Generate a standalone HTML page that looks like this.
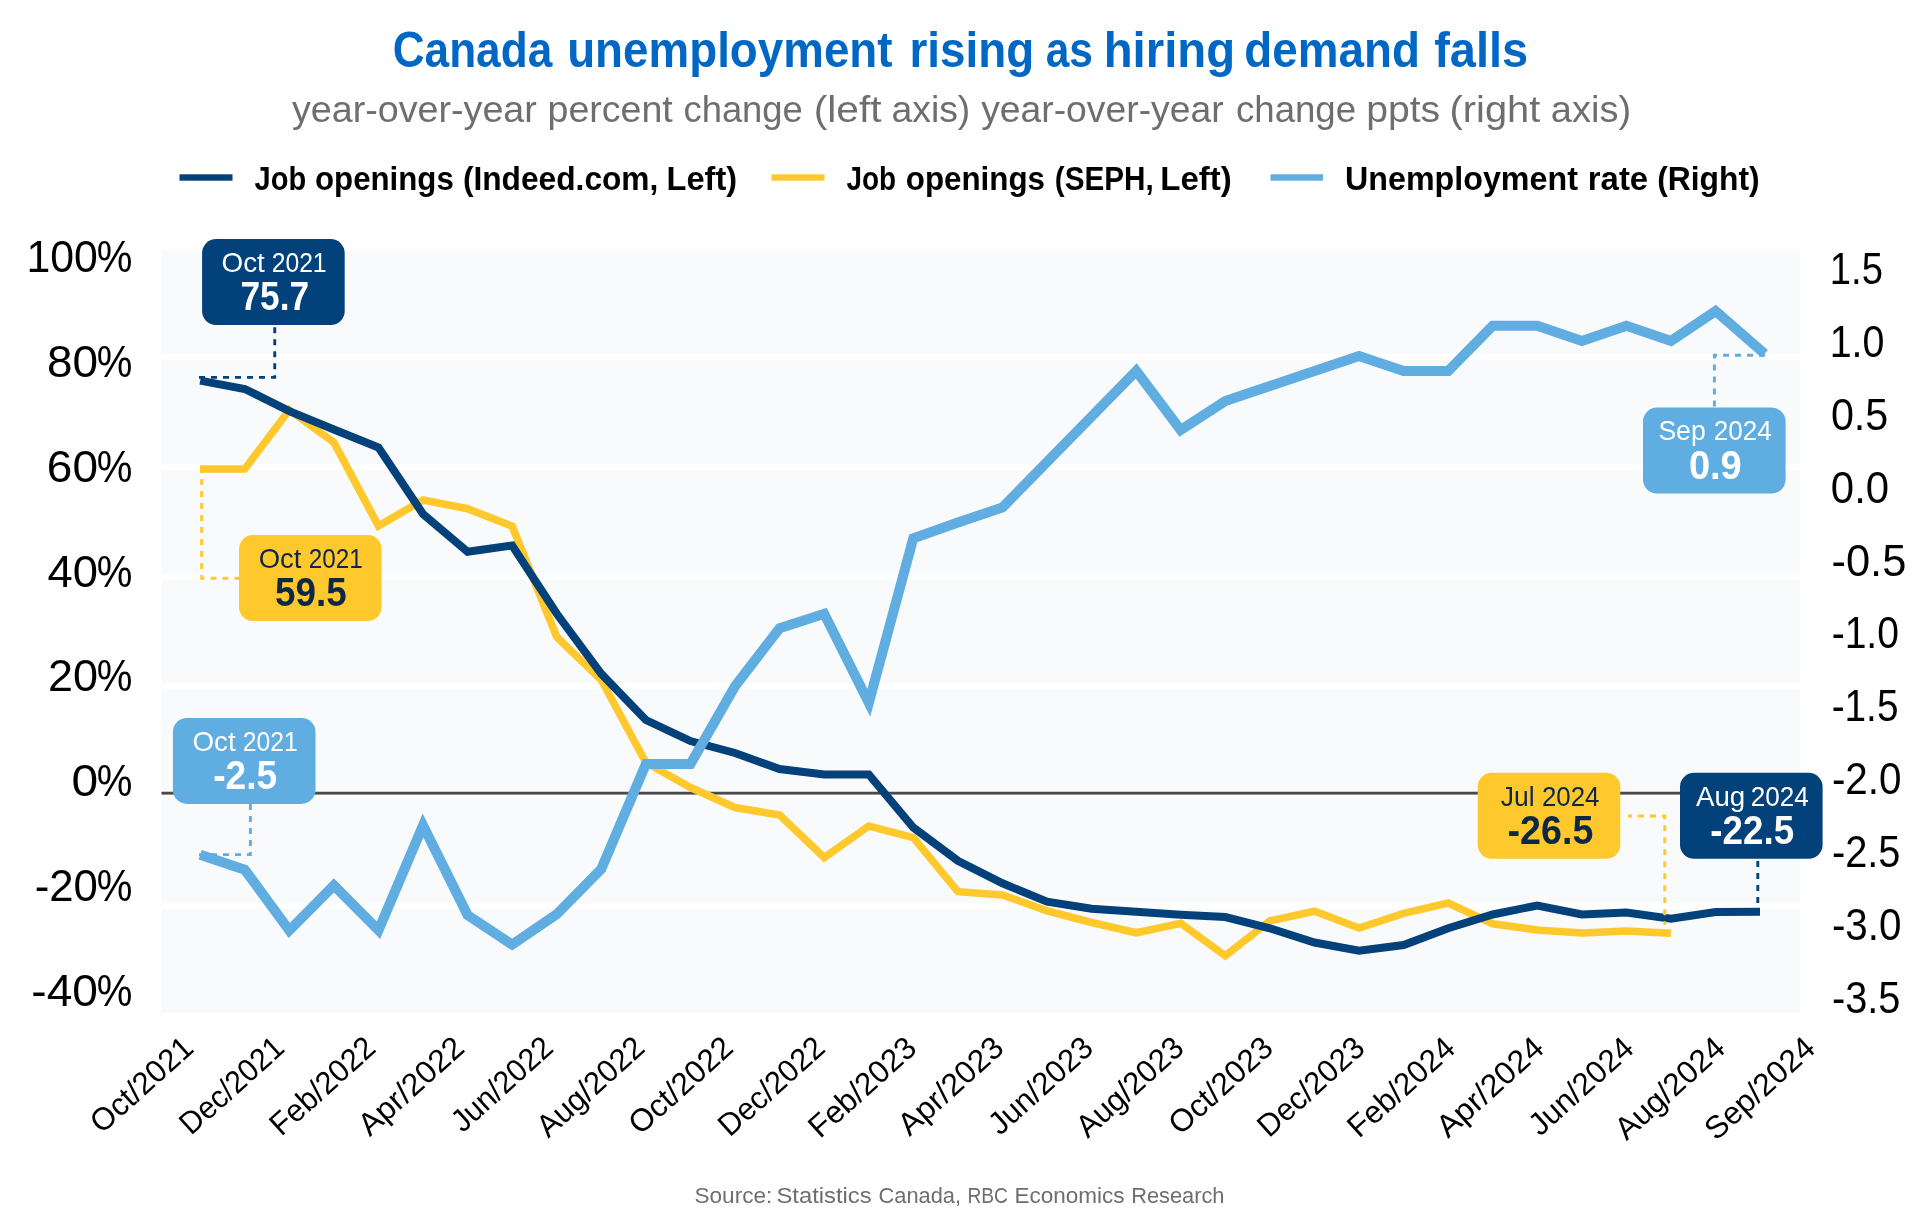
<!DOCTYPE html>
<html><head><meta charset="utf-8"><title>Canada unemployment rising as hiring demand falls</title>
<style>
html,body{margin:0;padding:0;background:#fff;}
body{width:1920px;height:1229px;overflow:hidden;font-family:"Liberation Sans",sans-serif;}
svg{display:block;will-change:transform;}
text{font-family:"Liberation Sans",sans-serif;font-kerning:none;}
</style></head><body>
<svg width="1920" height="1229" viewBox="0 0 1920 1229">
<rect x="0" y="0" width="1920" height="1229" fill="#ffffff"/>
<text x="392.69" y="67.4" font-size="49.5" fill="#0068c4" font-weight="bold" textLength="159.53" lengthAdjust="spacingAndGlyphs">Canada</text>
<text x="567.16" y="67.4" font-size="49.5" fill="#0068c4" font-weight="bold" textLength="325.40" lengthAdjust="spacingAndGlyphs">unemployment</text>
<text x="909.48" y="67.4" font-size="49.5" fill="#0068c4" font-weight="bold" textLength="124.84" lengthAdjust="spacingAndGlyphs">rising</text>
<text x="1045.76" y="67.4" font-size="49.5" fill="#0068c4" font-weight="bold" textLength="47.24" lengthAdjust="spacingAndGlyphs">as</text>
<text x="1103.69" y="67.4" font-size="49.5" fill="#0068c4" font-weight="bold" textLength="131.47" lengthAdjust="spacingAndGlyphs">hiring</text>
<text x="1244.37" y="67.4" font-size="49.5" fill="#0068c4" font-weight="bold" textLength="175.65" lengthAdjust="spacingAndGlyphs">demand</text>
<text x="1434.20" y="67.4" font-size="49.5" fill="#0068c4" font-weight="bold" textLength="93.98" lengthAdjust="spacingAndGlyphs">falls</text>
<text x="291.91" y="122.4" font-size="37" fill="#6e6e6e" font-weight="normal" textLength="244.97" lengthAdjust="spacingAndGlyphs">year-over-year</text>
<text x="547.58" y="122.4" font-size="37" fill="#6e6e6e" font-weight="normal" textLength="125.19" lengthAdjust="spacingAndGlyphs">percent</text>
<text x="683.45" y="122.4" font-size="37" fill="#6e6e6e" font-weight="normal" textLength="119.41" lengthAdjust="spacingAndGlyphs">change</text>
<text x="813.73" y="122.4" font-size="37" fill="#6e6e6e" font-weight="normal" textLength="67.82" lengthAdjust="spacingAndGlyphs">(left</text>
<text x="891.41" y="122.4" font-size="37" fill="#6e6e6e" font-weight="normal" textLength="78.91" lengthAdjust="spacingAndGlyphs">axis)</text>
<text x="981.16" y="122.4" font-size="37" fill="#6e6e6e" font-weight="normal" textLength="242.46" lengthAdjust="spacingAndGlyphs">year-over-year</text>
<text x="1235.94" y="122.4" font-size="37" fill="#6e6e6e" font-weight="normal" textLength="120.18" lengthAdjust="spacingAndGlyphs">change</text>
<text x="1366.23" y="122.4" font-size="37" fill="#6e6e6e" font-weight="normal" textLength="73.93" lengthAdjust="spacingAndGlyphs">ppts</text>
<text x="1449.53" y="122.4" font-size="37" fill="#6e6e6e" font-weight="normal" textLength="90.76" lengthAdjust="spacingAndGlyphs">(right</text>
<text x="1550.89" y="122.4" font-size="37" fill="#6e6e6e" font-weight="normal" textLength="80.22" lengthAdjust="spacingAndGlyphs">axis)</text>
<rect x="179.5" y="174.3" width="53.0" height="6.4" fill="#03417b"/>
<rect x="771.5" y="174.3" width="53.0" height="6.4" fill="#ffc82d"/>
<rect x="1270.5" y="174.3" width="52.5" height="6.4" fill="#60ade1"/>
<text x="254.56" y="190" font-size="33" fill="#000000" font-weight="bold" textLength="51.63" lengthAdjust="spacingAndGlyphs">Job</text>
<text x="315.03" y="190" font-size="33" fill="#000000" font-weight="bold" textLength="138.75" lengthAdjust="spacingAndGlyphs">openings</text>
<text x="462.92" y="190" font-size="33" fill="#000000" font-weight="bold" textLength="195.45" lengthAdjust="spacingAndGlyphs">(Indeed.com,</text>
<text x="666.57" y="190" font-size="33" fill="#000000" font-weight="bold" textLength="70.55" lengthAdjust="spacingAndGlyphs">Left)</text>
<text x="846.58" y="190" font-size="33" fill="#000000" font-weight="bold" textLength="49.57" lengthAdjust="spacingAndGlyphs">Job</text>
<text x="905.78" y="190" font-size="33" fill="#000000" font-weight="bold" textLength="139.26" lengthAdjust="spacingAndGlyphs">openings</text>
<text x="1054.77" y="190" font-size="33" fill="#000000" font-weight="bold" textLength="98.96" lengthAdjust="spacingAndGlyphs">(SEPH,</text>
<text x="1160.30" y="190" font-size="33" fill="#000000" font-weight="bold" textLength="71.34" lengthAdjust="spacingAndGlyphs">Left)</text>
<text x="1345.06" y="190" font-size="33" fill="#000000" font-weight="bold" textLength="232.83" lengthAdjust="spacingAndGlyphs">Unemployment</text>
<text x="1587.83" y="190" font-size="33" fill="#000000" font-weight="bold" textLength="60.29" lengthAdjust="spacingAndGlyphs">rate</text>
<text x="1657.17" y="190" font-size="33" fill="#000000" font-weight="bold" textLength="102.42" lengthAdjust="spacingAndGlyphs">(Right)</text>
<rect x="161.5" y="247" width="1638.5" height="768" fill="#f9fafc"/>
<rect x="150" y="244.4" width="1660" height="6" fill="#ffffff"/>
<rect x="150" y="354.1" width="1660" height="6" fill="#ffffff"/>
<rect x="150" y="463.9" width="1660" height="6" fill="#ffffff"/>
<rect x="150" y="573.6" width="1660" height="6" fill="#ffffff"/>
<rect x="150" y="683.4" width="1660" height="6" fill="#ffffff"/>
<rect x="150" y="793.1" width="1660" height="6" fill="#ffffff"/>
<rect x="150" y="902.9" width="1660" height="6" fill="#ffffff"/>
<rect x="150" y="1012.6" width="1660" height="6" fill="#ffffff"/>
<rect x="161.5" y="791.75" width="1638.5" height="2.85" fill="#4a4a4a"/>
<text x="26.54" y="271.8" font-size="43.8" fill="#000000" font-weight="normal" textLength="71.33" lengthAdjust="spacingAndGlyphs">100</text>
<text x="96.67" y="271.8" font-size="43.8" fill="#000000" font-weight="normal" textLength="35.66" lengthAdjust="spacingAndGlyphs">%</text>
<text x="46.90" y="376.7" font-size="43.8" fill="#000000" font-weight="normal" textLength="51.09" lengthAdjust="spacingAndGlyphs">80</text>
<text x="96.67" y="376.7" font-size="43.8" fill="#000000" font-weight="normal" textLength="35.66" lengthAdjust="spacingAndGlyphs">%</text>
<text x="46.87" y="481.6" font-size="43.8" fill="#000000" font-weight="normal" textLength="51.13" lengthAdjust="spacingAndGlyphs">60</text>
<text x="96.67" y="481.6" font-size="43.8" fill="#000000" font-weight="normal" textLength="35.66" lengthAdjust="spacingAndGlyphs">%</text>
<text x="47.56" y="586.5" font-size="43.8" fill="#000000" font-weight="normal" textLength="50.41" lengthAdjust="spacingAndGlyphs">40</text>
<text x="96.67" y="586.5" font-size="43.8" fill="#000000" font-weight="normal" textLength="35.66" lengthAdjust="spacingAndGlyphs">%</text>
<text x="47.94" y="691.4" font-size="43.8" fill="#000000" font-weight="normal" textLength="50.02" lengthAdjust="spacingAndGlyphs">20</text>
<text x="96.67" y="691.4" font-size="43.8" fill="#000000" font-weight="normal" textLength="35.66" lengthAdjust="spacingAndGlyphs">%</text>
<text x="71.43" y="796.3" font-size="43.8" fill="#000000" font-weight="normal" textLength="26.64" lengthAdjust="spacingAndGlyphs">0</text>
<text x="96.67" y="796.3" font-size="43.8" fill="#000000" font-weight="normal" textLength="35.66" lengthAdjust="spacingAndGlyphs">%</text>
<text x="34.66" y="901.2" font-size="43.8" fill="#000000" font-weight="normal" textLength="63.25" lengthAdjust="spacingAndGlyphs">-20</text>
<text x="96.67" y="901.2" font-size="43.8" fill="#000000" font-weight="normal" textLength="35.66" lengthAdjust="spacingAndGlyphs">%</text>
<text x="31.35" y="1006.1" font-size="43.8" fill="#000000" font-weight="normal" textLength="66.65" lengthAdjust="spacingAndGlyphs">-40</text>
<text x="96.67" y="1006.1" font-size="43.8" fill="#000000" font-weight="normal" textLength="35.66" lengthAdjust="spacingAndGlyphs">%</text>
<text x="1829.79" y="284.0" font-size="43.8" fill="#000000" font-weight="normal" textLength="53.11" lengthAdjust="spacingAndGlyphs">1.5</text>
<text x="1829.70" y="356.9" font-size="43.8" fill="#000000" font-weight="normal" textLength="54.74" lengthAdjust="spacingAndGlyphs">1.0</text>
<text x="1830.89" y="429.8" font-size="43.8" fill="#000000" font-weight="normal" textLength="57.45" lengthAdjust="spacingAndGlyphs">0.5</text>
<text x="1830.86" y="502.6" font-size="43.8" fill="#000000" font-weight="normal" textLength="58.28" lengthAdjust="spacingAndGlyphs">0.0</text>
<text x="1831.47" y="575.5" font-size="43.8" fill="#000000" font-weight="normal" textLength="74.85" lengthAdjust="spacingAndGlyphs">-0.5</text>
<text x="1831.67" y="648.4" font-size="43.8" fill="#000000" font-weight="normal" textLength="67.26" lengthAdjust="spacingAndGlyphs">-1.0</text>
<text x="1831.68" y="721.3" font-size="43.8" fill="#000000" font-weight="normal" textLength="66.75" lengthAdjust="spacingAndGlyphs">-1.5</text>
<text x="1831.90" y="794.2" font-size="43.8" fill="#000000" font-weight="normal" textLength="69.68" lengthAdjust="spacingAndGlyphs">-2.0</text>
<text x="1831.93" y="867.0" font-size="43.8" fill="#000000" font-weight="normal" textLength="68.54" lengthAdjust="spacingAndGlyphs">-2.5</text>
<text x="1831.90" y="939.9" font-size="43.8" fill="#000000" font-weight="normal" textLength="69.68" lengthAdjust="spacingAndGlyphs">-3.0</text>
<text x="1831.93" y="1012.8" font-size="43.8" fill="#000000" font-weight="normal" textLength="68.54" lengthAdjust="spacingAndGlyphs">-3.5</text>
<text transform="translate(194.10,1051.40) rotate(-42)" x="-124.12" y="0" font-size="31.5" fill="#000000" textLength="125.63" lengthAdjust="spacingAndGlyphs">Oct/2021</text>
<text transform="translate(285.10,1051.40) rotate(-42)" x="-126.49" y="0" font-size="31.5" fill="#000000" textLength="127.94" lengthAdjust="spacingAndGlyphs">Dec/2021</text>
<text transform="translate(376.35,1051.40) rotate(-42)" x="-127.84" y="0" font-size="31.5" fill="#000000" textLength="129.38" lengthAdjust="spacingAndGlyphs">Feb/2022</text>
<text transform="translate(465.10,1051.40) rotate(-42)" x="-128.45" y="0" font-size="31.5" fill="#000000" textLength="130.06" lengthAdjust="spacingAndGlyphs">Apr/2022</text>
<text transform="translate(553.85,1051.40) rotate(-42)" x="-122.76" y="0" font-size="31.5" fill="#000000" textLength="124.28" lengthAdjust="spacingAndGlyphs">Jun/2022</text>
<text transform="translate(645.35,1051.40) rotate(-42)" x="-130.57" y="0" font-size="31.5" fill="#000000" textLength="132.12" lengthAdjust="spacingAndGlyphs">Aug/2022</text>
<text transform="translate(733.85,1051.40) rotate(-42)" x="-126.12" y="0" font-size="31.5" fill="#000000" textLength="127.70" lengthAdjust="spacingAndGlyphs">Oct/2022</text>
<text transform="translate(825.85,1051.40) rotate(-42)" x="-129.19" y="0" font-size="31.5" fill="#000000" textLength="130.72" lengthAdjust="spacingAndGlyphs">Dec/2022</text>
<text transform="translate(917.35,1051.40) rotate(-42)" x="-131.12" y="0" font-size="31.5" fill="#000000" textLength="132.50" lengthAdjust="spacingAndGlyphs">Feb/2023</text>
<text transform="translate(1004.60,1051.40) rotate(-42)" x="-127.97" y="0" font-size="31.5" fill="#000000" textLength="129.37" lengthAdjust="spacingAndGlyphs">Apr/2023</text>
<text transform="translate(1094.10,1051.40) rotate(-42)" x="-126.67" y="0" font-size="31.5" fill="#000000" textLength="128.03" lengthAdjust="spacingAndGlyphs">Jun/2023</text>
<text transform="translate(1184.85,1051.40) rotate(-42)" x="-130.76" y="0" font-size="31.5" fill="#000000" textLength="132.12" lengthAdjust="spacingAndGlyphs">Aug/2023</text>
<text transform="translate(1274.10,1051.40) rotate(-42)" x="-126.31" y="0" font-size="31.5" fill="#000000" textLength="127.69" lengthAdjust="spacingAndGlyphs">Oct/2023</text>
<text transform="translate(1365.60,1051.40) rotate(-42)" x="-130.07" y="0" font-size="31.5" fill="#000000" textLength="131.42" lengthAdjust="spacingAndGlyphs">Dec/2023</text>
<text transform="translate(1456.35,1051.40) rotate(-42)" x="-130.88" y="0" font-size="31.5" fill="#000000" textLength="131.80" lengthAdjust="spacingAndGlyphs">Feb/2024</text>
<text transform="translate(1545.10,1051.40) rotate(-42)" x="-130.78" y="0" font-size="31.5" fill="#000000" textLength="131.73" lengthAdjust="spacingAndGlyphs">Apr/2024</text>
<text transform="translate(1635.10,1051.40) rotate(-42)" x="-127.79" y="0" font-size="31.5" fill="#000000" textLength="128.71" lengthAdjust="spacingAndGlyphs">Jun/2024</text>
<text transform="translate(1726.35,1051.40) rotate(-42)" x="-134.24" y="0" font-size="31.5" fill="#000000" textLength="135.17" lengthAdjust="spacingAndGlyphs">Aug/2024</text>
<text transform="translate(1816.35,1051.40) rotate(-42)" x="-134.62" y="0" font-size="31.5" fill="#000000" textLength="135.55" lengthAdjust="spacingAndGlyphs">Sep/2024</text>
<polyline points="200.0,469.0 244.8,469.0 289.3,410.0 333.9,442.5 378.5,526.0 423.0,500.0 467.6,508.7 512.2,526.3 556.8,637.0 601.3,680.0 645.9,762.5 690.5,787.5 735.0,807.5 779.6,815.0 824.2,857.5 868.8,826.0 913.3,837.5 957.9,891.7 1002.5,895.0 1047.0,910.8 1091.6,922.5 1136.2,932.8 1180.7,923.3 1225.3,955.8 1269.9,920.8 1314.5,911.3 1359.0,928.0 1403.6,913.3 1448.2,903.0 1492.7,923.8 1537.3,930.0 1581.9,933.0 1626.4,931.0 1671.0,933.3" fill="none" stroke="#ffc82d" stroke-width="7.6" stroke-linejoin="miter"/>
<polyline points="200.2,380.6 244.8,389.0 289.3,411.2 333.9,429.5 378.5,447.5 423.0,514.0 467.6,551.8 512.2,545.5 556.8,613.8 601.3,673.8 645.9,720.0 690.5,741.0 735.0,753.0 779.6,769.0 824.2,774.5 868.8,774.5 913.3,827.5 957.9,860.8 1002.5,883.3 1047.0,901.7 1091.6,908.7 1136.2,911.7 1180.7,914.7 1225.3,917.0 1269.9,928.3 1314.5,942.5 1359.0,950.8 1403.6,945.0 1448.2,928.3 1492.7,914.5 1537.3,905.5 1581.9,914.5 1626.4,912.5 1671.0,918.8 1715.6,912.0 1760.0,911.7" fill="none" stroke="#03417b" stroke-width="8" stroke-linejoin="miter"/>
<polyline points="200.2,854.8 244.8,869.7 289.3,930.4 333.9,885.4 378.5,930.3 423.0,825.5 467.6,915.1 512.2,944.6 556.8,914.2 601.3,868.9 645.9,764.0 690.5,764.0 735.0,686.2 779.6,628.3 824.2,613.8 868.8,702.8 913.3,538.3 957.9,522.5 1002.5,507.5 1047.0,462.0 1091.6,416.5 1136.2,371.0 1180.7,430.0 1225.3,401.0 1269.9,386.0 1314.5,371.0 1359.0,356.0 1403.6,371.0 1448.2,371.0 1492.7,325.8 1537.3,325.8 1581.9,341.0 1626.4,325.8 1671.0,341.0 1715.6,311.0 1764.6,353.7" fill="none" stroke="#60ade1" stroke-width="10" stroke-linejoin="miter"/>
<path d="M199,377.4 H274.75 V325" fill="none" stroke="#03417b" stroke-width="2.9" stroke-dasharray="6 6" stroke-dashoffset="0"/>
<path d="M201.7,467 V578.2 H239" fill="none" stroke="#ffc82d" stroke-width="2.9" stroke-dasharray="6 6" stroke-dashoffset="0"/>
<path d="M199,854.6 H250.4 V804" fill="none" stroke="#60ade1" stroke-width="2.9" stroke-dasharray="6 6" stroke-dashoffset="0"/>
<path d="M1628,816 H1664.8 V925" fill="none" stroke="#ffc82d" stroke-width="2.9" stroke-dasharray="6 6" stroke-dashoffset="2"/>
<path d="M1757.8,861 V903" fill="none" stroke="#03417b" stroke-width="2.9" stroke-dasharray="6 6" stroke-dashoffset="0"/>
<path d="M1765,355.2 H1714.4 V408" fill="none" stroke="#60ade1" stroke-width="2.9" stroke-dasharray="6 6" stroke-dashoffset="0"/>
<rect x="202.1" y="239.1" width="142.6" height="86" rx="14" ry="14" fill="#03417b"/>
<text x="221.58" y="271.9" font-size="27.5" fill="#ffffff" font-weight="normal" textLength="43.22" lengthAdjust="spacingAndGlyphs">Oct</text>
<text x="271.66" y="271.9" font-size="27.5" fill="#ffffff" font-weight="normal" textLength="54.95" lengthAdjust="spacingAndGlyphs">2021</text>
<text x="240.49" y="310.2" font-size="40" fill="#ffffff" font-weight="bold" textLength="68.56" lengthAdjust="spacingAndGlyphs">75.7</text>
<rect x="239" y="535.1" width="142.6" height="86" rx="14" ry="14" fill="#ffc82d"/>
<text x="258.70" y="567.9" font-size="27.5" fill="#0c2846" font-weight="normal" textLength="42.75" lengthAdjust="spacingAndGlyphs">Oct</text>
<text x="308.78" y="567.9" font-size="27.5" fill="#0c2846" font-weight="normal" textLength="54.11" lengthAdjust="spacingAndGlyphs">2021</text>
<text x="275.12" y="606.2" font-size="40" fill="#0c2846" font-weight="bold" textLength="71.71" lengthAdjust="spacingAndGlyphs">59.5</text>
<rect x="172.9" y="717.9" width="142.6" height="86" rx="14" ry="14" fill="#60ade1"/>
<text x="192.44" y="750.7" font-size="27.5" fill="#ffffff" font-weight="normal" textLength="43.17" lengthAdjust="spacingAndGlyphs">Oct</text>
<text x="242.76" y="750.7" font-size="27.5" fill="#ffffff" font-weight="normal" textLength="54.95" lengthAdjust="spacingAndGlyphs">2021</text>
<text x="213.15" y="789.0" font-size="40" fill="#ffffff" font-weight="bold" textLength="64.14" lengthAdjust="spacingAndGlyphs">-2.5</text>
<rect x="1477.7" y="772.8" width="142.6" height="86" rx="14" ry="14" fill="#ffc82d"/>
<text x="1500.84" y="805.6" font-size="27.5" fill="#0c2846" font-weight="normal" textLength="33.83" lengthAdjust="spacingAndGlyphs">Jul</text>
<text x="1541.90" y="805.6" font-size="27.5" fill="#0c2846" font-weight="normal" textLength="57.61" lengthAdjust="spacingAndGlyphs">2024</text>
<text x="1507.53" y="843.9" font-size="40" fill="#0c2846" font-weight="bold" textLength="85.82" lengthAdjust="spacingAndGlyphs">-26.5</text>
<rect x="1680" y="772.8" width="142.6" height="86" rx="14" ry="14" fill="#03417b"/>
<text x="1695.95" y="805.6" font-size="27.5" fill="#ffffff" font-weight="normal" textLength="49.34" lengthAdjust="spacingAndGlyphs">Aug</text>
<text x="1750.69" y="805.6" font-size="27.5" fill="#ffffff" font-weight="normal" textLength="58.08" lengthAdjust="spacingAndGlyphs">2024</text>
<text x="1710.36" y="843.9" font-size="40" fill="#ffffff" font-weight="bold" textLength="83.91" lengthAdjust="spacingAndGlyphs">-22.5</text>
<rect x="1643" y="407.6" width="142.6" height="86" rx="14" ry="14" fill="#60ade1"/>
<text x="1658.39" y="440.4" font-size="27.5" fill="#ffffff" font-weight="normal" textLength="47.32" lengthAdjust="spacingAndGlyphs">Sep</text>
<text x="1713.69" y="440.4" font-size="27.5" fill="#ffffff" font-weight="normal" textLength="58.08" lengthAdjust="spacingAndGlyphs">2024</text>
<text x="1688.89" y="478.7" font-size="40" fill="#ffffff" font-weight="bold" textLength="52.92" lengthAdjust="spacingAndGlyphs">0.9</text>
<text x="694.48" y="1202.7" font-size="22.3" fill="#6e6e6e" font-weight="normal" textLength="77.79" lengthAdjust="spacingAndGlyphs">Source:</text>
<text x="776.42" y="1202.7" font-size="22.3" fill="#6e6e6e" font-weight="normal" textLength="95.24" lengthAdjust="spacingAndGlyphs">Statistics</text>
<text x="878.49" y="1202.7" font-size="22.3" fill="#6e6e6e" font-weight="normal" textLength="82.57" lengthAdjust="spacingAndGlyphs">Canada,</text>
<text x="967.43" y="1202.7" font-size="22.3" fill="#6e6e6e" font-weight="normal" textLength="40.50" lengthAdjust="spacingAndGlyphs">RBC</text>
<text x="1014.55" y="1202.7" font-size="22.3" fill="#6e6e6e" font-weight="normal" textLength="110.06" lengthAdjust="spacingAndGlyphs">Economics</text>
<text x="1131.21" y="1202.7" font-size="22.3" fill="#6e6e6e" font-weight="normal" textLength="93.20" lengthAdjust="spacingAndGlyphs">Research</text>
</svg></body></html>
